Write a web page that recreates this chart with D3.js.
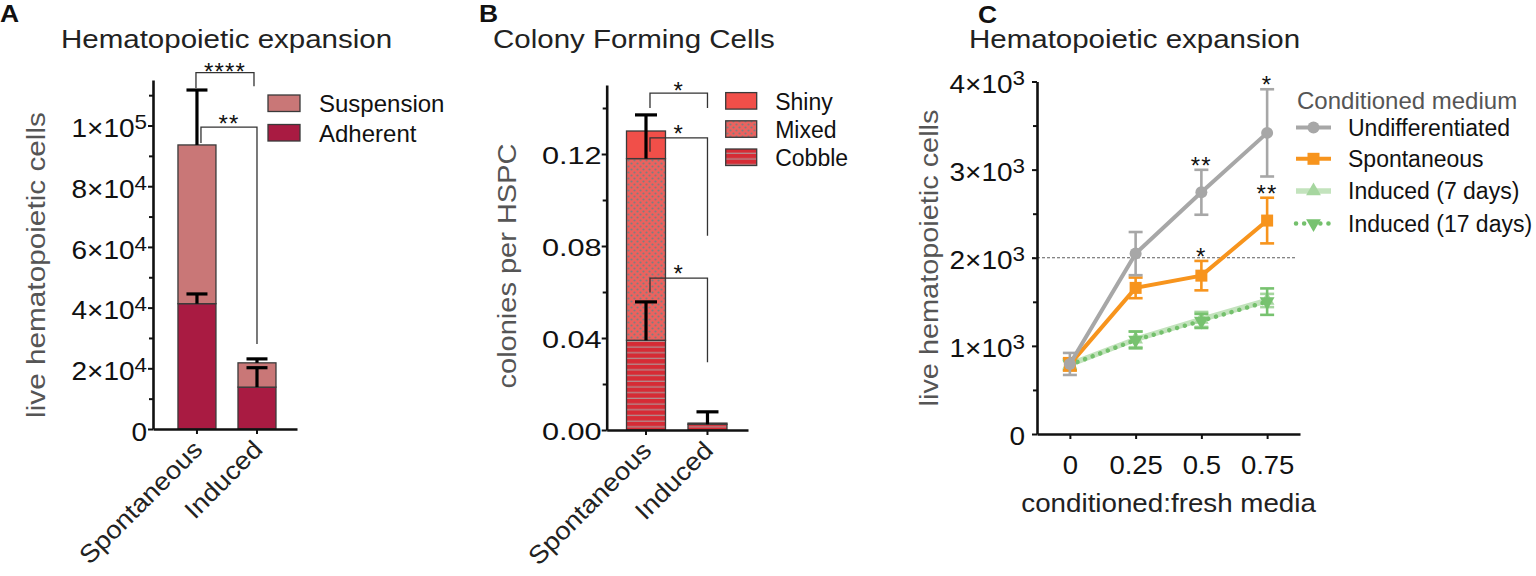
<!DOCTYPE html>
<html>
<head>
<meta charset="utf-8">
<script src="https://cdn.jsdelivr.net/npm/d3@7/dist/d3.min.js"></script>
<style>
  body { margin: 0; background: #fff; }
  text { font-family: "Liberation Sans", Arial, Helvetica, sans-serif; }
</style>
</head>
<body>
<svg id="fig" width="1536" height="576"></svg>
<script>
// ---- values ----
const groups = ['Spontaneous', 'Induced'];

// A: hematopoietic expansion, stacked (cells)
const adherent = [41300, 13800];
const adherentErr = [3200, 6400];
const suspension = [52300, 8000];
const suspensionErr = [18100, 1300];
const ticksA = [0, 20000, 40000, 60000, 80000, 100000];
const minorA = [10000, 30000, 50000, 70000, 90000, 110000];

// B: colony forming cells per HSPC, stacked
const cobble = [0.039, 0.0025];
const cobbleErr = [0.0167, 0.0054];
const mixed = [0.079, 0.0005];
const mixedErr = [0.019, 0];
const shiny = [0.012, 0];
const ticksB = [0, 0.04, 0.08, 0.12];
const minorB = [0.02, 0.06, 0.10, 0.14];

// C: expansion vs conditioned:fresh media ratio
const ratios = [0, 0.25, 0.5, 0.75];
const undiff = [795, 2047, 2743, 3417];
const undiffErr = [125, 245, 255, 495];
const spont = [790, 1658, 1797, 2422];
const spontErr = [70, 117, 167, 259];
const induced7 = [790, 1075, 1300, 1515];
const induced7Err = [60, 90, 85, 75];
const induced17 = [785, 1067, 1283, 1502];
const induced17Err = [60, 95, 80, 150];
const ticksC = [0, 1000, 2000, 3000, 4000];
const minorC = [500, 1500, 2500, 3500];
const refLineC = 2000;

// significance marks
const sigA = [
  { label: '****', top: 117400, left: 112400, right: 112900 },
  { label: '**', top: 99500, left: 94200, right: 28000 }
];
const sigB = [
  { label: '*', top: 0.1465, left: 0.140, right: 0.140 },
  { label: '*', top: 0.127, left: 0.121, right: 0.0845 },
  { label: '*', top: 0.066, left: 0.0598, right: 0.0295 }
];
const sigC = [
  { series: 0, at: 2, label: '**' },
  { series: 0, at: 3, label: '*' },
  { series: 1, at: 2, label: '*' },
  { series: 1, at: 3, label: '**' }
];

const svg = d3.select('#fig');
const defs = svg.append('defs');

// the original lettering is wider than Arial, stretch it sideways
function widen(sel, sx) {
  sel.each(function() {
    const t = d3.select(this);
    const x = +(t.attr('x') || 0);
    t.attr('x', x / sx).attr('transform', (t.attr('transform') || '') + ' scale(' + sx + ',1)');
  });
}

function sciText(text) {
  text.each(function(d) {
    const t = d3.select(this).text(null);
    if (d === 0) { t.text('0'); return; }
    const e = Math.floor(Math.log10(d) + 1e-9);
    const m = Math.round(d / Math.pow(10, e));
    t.append('tspan').text(m + '×10');
    t.append('tspan').attr('font-size', '0.8em').attr('dy', '-0.4em').text(e);
  });
}

function styleAxis(a) {
  a.select('.domain').attr('stroke', '#111').attr('stroke-width', 2.6);
  a.selectAll('.tick line').attr('stroke', '#111').attr('stroke-width', 2);
  a.selectAll('.tick text').attr('fill', '#111').attr('font-size', 25);
}

function title(x, y, txt, sx) {
  svg.append('text').attr('x', x).attr('y', y).attr('font-size', 25).attr('fill', '#222')
    .text(txt).call(widen, sx);
}

function letter(x, y, txt) {
  svg.append('text').attr('x', x).attr('y', y).attr('font-size', 23).attr('font-weight', 'bold')
    .attr('fill', '#111').text(txt).call(widen, 1.15);
}

function yTitle(x, y, txt, sx) {
  svg.append('text').attr('transform', 'translate(' + x + ',' + y + ') rotate(-90) scale(' + sx + ',1)')
    .attr('text-anchor', 'middle').attr('font-size', 25).attr('fill', '#555').text(txt);
}

function star(x, y, txt) {
  svg.append('text').attr('x', x).attr('y', y).attr('text-anchor', 'middle')
    .attr('font-size', 24).attr('letter-spacing', '0.05em').attr('fill', '#111').text(txt);
}

// patterns for the colony types
const dots = defs.append('pattern').attr('id', 'dots').attr('patternUnits', 'userSpaceOnUse')
  .attr('width', 6).attr('height', 6);
dots.append('rect').attr('width', 6).attr('height', 6).attr('fill', '#eb625e');
dots.append('circle').attr('cx', 1.5).attr('cy', 1.5).attr('r', 1.1).attr('fill', '#7e7e7e');
dots.append('circle').attr('cx', 4.5).attr('cy', 4.5).attr('r', 1.1).attr('fill', '#7e7e7e');

const stripes = defs.append('pattern').attr('id', 'stripes').attr('patternUnits', 'userSpaceOnUse')
  .attr('width', 6).attr('height', 5.7);
stripes.append('rect').attr('width', 6).attr('height', 5.7).attr('fill', '#d62b35');
stripes.append('rect').attr('y', 4.5).attr('width', 6).attr('height', 1).attr('fill', '#a8a8a8');

// stacked bar panel shared by A and B
function stackedPanel(o) {
  const g = svg.append('g');
  const y = d3.scaleLinear().domain(o.domain).range([o.zero, o.top]);
  const x = d3.scaleBand().domain(groups).range(o.xRange)
    .paddingInner(o.padIn).paddingOuter(o.padOut).align(o.align);
  const bw = x.bandwidth();

  const rows = groups.map((k, i) => {
    const r = { group: k };
    o.keys.forEach((key, j) => { r[key] = o.values[j][i]; });
    return r;
  });
  const layers = d3.stack().keys(o.keys)(rows);

  layers.forEach((layer, j) => {
    g.selectAll(null).data(layer).join('rect')
      .attr('x', d => x(d.data.group))
      .attr('y', d => y(d[1]))
      .attr('width', bw)
      .attr('height', d => y(d[0]) - y(d[1]))
      .attr('fill', o.fills[j])
      .attr('stroke', '#3a3a3a').attr('stroke-width', 1.3);
  });

  // error bars, upward from the top of each segment
  layers.forEach((layer, j) => {
    if (!o.errs[j]) return;
    layer.forEach((d, i) => {
      const e = o.errs[j][i];
      if (!e) return;
      const cx = x(d.data.group) + bw / 2;
      g.append('line').attr('x1', cx).attr('x2', cx)
        .attr('y1', y(d[1])).attr('y2', y(d[1] + e))
        .attr('stroke', '#000').attr('stroke-width', 3.2);
      g.append('line').attr('x1', cx - o.capW / 2).attr('x2', cx + o.capW / 2)
        .attr('y1', y(d[1] + e)).attr('y2', y(d[1] + e))
        .attr('stroke', '#000').attr('stroke-width', 3.2);
    });
  });

  const axX = o.xRange[0];
  g.append('g').attr('transform', 'translate(' + axX + ',0)')
    .call(d3.axisLeft(y).tickValues(o.minor).tickSize(4).tickFormat(''))
    .call(a => { a.select('.domain').remove(); a.selectAll('line').attr('stroke', '#111').attr('stroke-width', 2); });
  const ya = g.append('g').attr('transform', 'translate(' + axX + ',0)')
    .call(d3.axisLeft(y).tickValues(o.ticks).tickSize(5).tickSizeOuter(0).tickPadding(o.tickPad)
      .tickFormat(o.fmt || null))
    .call(styleAxis);
  if (o.sci) ya.selectAll('.tick text').call(sciText);
  ya.selectAll('.tick text').attr('dy', o.tickDy).attr('font-size', o.tickFs).call(widen, o.tickSx);

  g.append('g').attr('transform', 'translate(0,' + o.zero + ')')
    .call(d3.axisBottom(x).tickSize(5).tickSizeOuter(0).tickFormat(''))
    .call(styleAxis);

  g.selectAll('.cat').data(groups).join('text')
    .attr('transform', d => 'translate(' + (x(d) + bw / 2 + 7) + ',' + (o.zero + 22) + ') rotate(-45) scale(1.1,1)')
    .attr('text-anchor', 'end').attr('font-size', 25).attr('fill', '#222').text(d => d);

  // significance brackets
  const c0 = x(groups[0]) + bw / 2, c1 = x(groups[1]) + bw / 2;
  o.sig.forEach((s, k) => {
    const xl = c0 + o.sigDx[k][0], xr = c1 + o.sigDx[k][1];
    g.append('path')
      .attr('d', d3.line()([[xl, y(s.left)], [xl, y(s.top)], [xr, y(s.top)], [xr, y(s.right)]]))
      .attr('fill', 'none').attr('stroke', '#333').attr('stroke-width', 1.3);
    star((xl + xr) / 2, y(s.top) + o.starDy[k], s.label);
  });

  // legend, top layer first
  const names = o.names.slice().reverse();
  const fills = o.fills.slice().reverse();
  names.forEach((n, k) => {
    const ry = o.legY + k * o.legStep;
    g.append('rect').attr('x', o.legX).attr('y', ry).attr('width', o.swW).attr('height', 16.5)
      .attr('fill', fills[k]).attr('stroke', '#3a3a3a').attr('stroke-width', 1.3);
    g.append('text').attr('x', o.legX + o.legTextDx).attr('y', ry + 17).attr('font-size', o.legFs)
      .attr('fill', '#111').text(n);
  });
}

// ---- A ----
letter(0, 22, 'A');
title(61, 48, 'Hematopoietic expansion', 1.18);
yTitle(44.5, 265, 'live hematopoietic cells', 1.19);
stackedPanel({
  domain: [0, 115000], zero: 429, top: 80, xRange: [153, 297],
  padIn: 0.367, padOut: 0.383, align: 0.543,
  keys: ['adherent', 'suspension'], names: ['Adherent', 'Suspension'],
  values: [adherent, suspension], errs: [adherentErr, suspensionErr],
  fills: ['#a91b42', '#c97777'], capW: 21,
  ticks: ticksA, minor: minorA, sci: true, tickPad: 1, tickDy: '0.45em', tickFs: 25, tickSx: 1.12,
  sig: sigA, sigDx: [[-1, -3], [4, 0]], starDy: [7, 5],
  legX: 268, legY: 95, legStep: 29.5, swW: 32, legTextDx: 51, legFs: 24
});

// ---- B ----
letter(479, 22, 'B');
title(493, 48, 'Colony Forming Cells', 1.18);
yTitle(516, 266, 'colonies per HSPC', 1.16);
stackedPanel({
  domain: [0, 0.15], zero: 430, top: 85, xRange: [606.7, 748],
  padIn: 0.366, padOut: 0.332, align: 0.485,
  keys: ['cobble', 'mixed', 'shiny'], names: ['Cobble', 'Mixed', 'Shiny'],
  values: [cobble, mixed, shiny], errs: [cobbleErr, mixedErr, null],
  fills: ['url(#stripes)', 'url(#dots)', '#f14f49'], capW: 22,
  ticks: ticksB, minor: minorB, sci: false, fmt: d3.format('.2f'), tickPad: 0, tickDy: '0.38em', tickFs: 24, tickSx: 1.28,
  sig: sigB, sigDx: [[4, 0], [4, 0], [4, 0]], starDy: [6, 4, 4],
  legX: 725.7, legY: 92.6, legStep: 28.2, swW: 31, legTextDx: 49.5, legFs: 23
});

// ---- C ----
letter(978, 23, 'C');
title(969, 48, 'Hematopoietic expansion', 1.18);
yTitle(937.5, 258, 'live hematopoietic cells', 1.155);

(function drawPanelC() {
  const g = svg.append('g');
  const x = d3.scaleLinear().domain([-0.125, 0.875]).range([1037, 1300]);
  const y = d3.scaleLinear().domain([0, 4000]).range([434, 81.5]);

  const series = [
    { name: 'Undifferentiated', values: undiff, err: undiffErr, color: '#a7a7a7', mark: '#a7a7a7', width: 4, sym: 'circle' },
    { name: 'Spontaneous', values: spont, err: spontErr, color: '#f7941d', mark: '#f7941d', width: 4, sym: 'square' },
    { name: 'Induced (7 days)', values: induced7, err: induced7Err, color: '#c3e3bd', mark: '#a6d69f', width: 5.5, sym: 'up' },
    { name: 'Induced (17 days)', values: induced17, err: induced17Err, color: '#74c06c', mark: '#77c26f', width: 4.5, dash: '0.1 8', sym: 'down' }
  ];

  function symbolPath(s) {
    if (s === 'circle') return d3.symbol().type(d3.symbolCircle).size(Math.PI * 36)();
    if (s === 'square') return d3.symbol().type(d3.symbolSquare).size(144)();
    return d3.symbol().type(d3.symbolTriangle).size(95)();
  }
  function placeSym(s, px, py) {
    return 'translate(' + px + ',' + py + ')' + (s === 'down' ? ' rotate(180)' : '');
  }

  // reference line at 2x10^3
  g.append('line').attr('x1', 1032).attr('x2', 1295).attr('y1', y(refLineC)).attr('y2', y(refLineC))
    .attr('stroke', '#333').attr('stroke-width', 0.8).attr('stroke-dasharray', '3,2');

  const line = d3.line().x((d, i) => x(ratios[i])).y(d => y(d));

  [2, 3, 1, 0].forEach(k => {
    const s = series[k];
    s.values.forEach((v, i) => {
      const cx = x(ratios[i]);
      g.append('line').attr('x1', cx).attr('x2', cx).attr('y1', y(v - s.err[i])).attr('y2', y(v + s.err[i]))
        .attr('stroke', s.mark).attr('stroke-width', 2.6);
      [v - s.err[i], v + s.err[i]].forEach(e => {
        g.append('line').attr('x1', cx - 7).attr('x2', cx + 7).attr('y1', y(e)).attr('y2', y(e))
          .attr('stroke', s.mark).attr('stroke-width', 2.6);
      });
    });
    g.append('path').attr('d', line(s.values)).attr('fill', 'none')
      .attr('stroke', s.color).attr('stroke-width', s.width)
      .attr('stroke-linecap', s.dash ? 'round' : 'butt')
      .attr('stroke-dasharray', s.dash || null);
    g.selectAll(null).data(s.values).join('path')
      .attr('d', symbolPath(s.sym))
      .attr('transform', (d, i) => placeSym(s.sym, x(ratios[i]), y(d)))
      .attr('fill', s.mark);
  });

  g.append('g').attr('transform', 'translate(1037,0)')
    .call(d3.axisLeft(y).tickValues(minorC).tickSize(4).tickFormat(''))
    .call(a => { a.select('.domain').remove(); a.selectAll('line').attr('stroke', '#111').attr('stroke-width', 2); });
  const ya = g.append('g').attr('transform', 'translate(1037,0)')
    .call(d3.axisLeft(y).tickValues(ticksC).tickSize(5).tickSizeOuter(0).tickPadding(7))
    .call(styleAxis);
  ya.selectAll('.tick text').call(sciText);
  ya.selectAll('.tick text').attr('dy', '0.42em').call(widen, 1.12);

  const xa = g.append('g').attr('transform', 'translate(0,434)')
    .call(d3.axisBottom(x).tickValues(ratios).tickSize(5).tickSizeOuter(0).tickFormat(d => String(d)))
    .call(styleAxis);
  xa.selectAll('.tick text').attr('y', 40).attr('dy', 0).call(widen, 1.1);

  g.append('text').attr('x', 1168.6).attr('y', 512).attr('text-anchor', 'middle')
    .attr('font-size', 25).attr('fill', '#222').text('conditioned:fresh media').call(widen, 1.11);

  sigC.forEach(m => {
    const s = series[m.series];
    const top = s.values[m.at] + s.err[m.at];
    star(x(ratios[m.at]), y(top) + 4, m.label);
  });

  // legend
  g.append('text').attr('x', 1297).attr('y', 109).attr('font-size', 24).attr('fill', '#555')
    .text('Conditioned medium');
  const rowY = [127.6, 158.8, 191, 223.5];
  series.forEach((s, k) => {
    const ly = rowY[k];
    g.append('line').attr('x1', 1296).attr('x2', 1331).attr('y1', ly).attr('y2', ly)
      .attr('stroke', s.color).attr('stroke-width', s.width)
      .attr('stroke-linecap', s.dash ? 'round' : 'butt')
      .attr('stroke-dasharray', s.dash || null);
    g.append('path').attr('d', symbolPath(s.sym)).attr('transform', placeSym(s.sym, 1313.5, ly))
      .attr('fill', s.mark);
    g.append('text').attr('x', 1348).attr('y', ly).attr('dy', '0.36em').attr('font-size', 23)
      .attr('fill', '#111').text(s.name);
  });
})();
</script>
</body>
</html>
